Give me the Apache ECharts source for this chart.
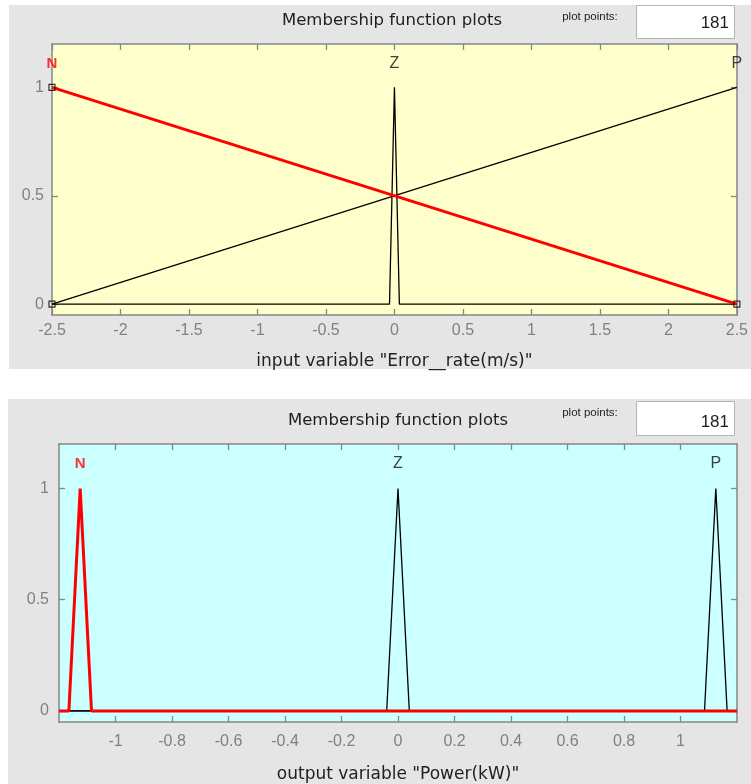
<!DOCTYPE html>
<html>
<head>
<meta charset="utf-8">
<script src="https://cdn.jsdelivr.net/npm/echarts@6/dist/echarts.min.js"></script>
<style>
html,body{margin:0;padding:0;background:#fff;}
#c{width:751px;height:784px;}
</style>
</head>
<body>
<div id="c"></div>
<script>
// ---- data ----
// input variable "Error__rate(m/s)"
const inRange = [-2.5, 2.5];
const inTicks = [-2.5, -2, -1.5, -1, -0.5, 0, 0.5, 1, 1.5, 2, 2.5];
const inMfNames = ['N', 'Z', 'P'];
const inN = [[-2.5, 1], [2.5, 0]];
const inZ = [[-2.5, 0], [-0.036, 0], [0, 1], [0.036, 0], [2.5, 0]];
const inP = [[-2.5, 0], [2.5, 1]];
const inLabelX = [-2.5, 0, 2.5];
const inVertices = [[-2.5, 1], [-2.5, 0], [2.5, 0]];

// output variable "Power(kW)"
const outRange = [-1.2, 1.2];
const outTicks = [-1, -0.8, -0.6, -0.4, -0.2, 0, 0.2, 0.4, 0.6, 0.8, 1];
const outMfNames = ['N', 'Z', 'P'];
const outN = [[-1.2, 0], [-1.165, 0], [-1.125, 1], [-1.085, 0], [1.2, 0]];
const outZ = [[-1.2, 0], [-0.04, 0], [0, 1], [0.04, 0], [1.2, 0]];
const outP = [[-1.2, 0], [1.085, 0], [1.125, 1], [1.165, 0], [1.2, 0]];
const outLabelX = [-1.125, 0, 1.125];

const yRange = [-0.05, 1.2];
const yTicks = [0, 0.5, 1];
const labelY = 1.11;
const plotPoints = '181';

// ---- chart ----
const FONT = '"Liberation Sans", Arial, sans-serif';
const WFONT = '"DejaVu Sans", "Liberation Sans", sans-serif';
const AX = '#868686';
const TXT = '#7f8088';
const chart = echarts.init(document.getElementById('c'), null, {renderer: 'canvas'});

function fmt(v) { return String(Math.round(v * 10) / 10); }

function xAxes(gi, range, ticks, name, margin, gap) {
  return [{
    type: 'value', gridIndex: gi, min: range[0], max: range[1], position: 'bottom',
    axisLine: {show: true, onZero: false, lineStyle: {color: AX, width: 1.5}},
    axisTick: {show: true, inside: true, length: 6, customValues: ticks, lineStyle: {color: AX, width: 1.3}},
    axisLabel: {show: true, customValues: ticks, formatter: fmt, color: TXT, fontFamily: FONT, fontSize: 16, margin: margin, showMinLabel: true, showMaxLabel: true},
    splitLine: {show: false},
    name: name, nameLocation: 'middle', nameGap: gap,
    nameTextStyle: {color: '#222', fontFamily: WFONT, fontSize: 17}
  }, {
    type: 'value', gridIndex: gi, min: range[0], max: range[1], position: 'top',
    axisLine: {show: true, onZero: false, lineStyle: {color: AX, width: 1.5}},
    axisTick: {show: true, inside: true, length: 6, customValues: ticks, lineStyle: {color: AX, width: 1.3}},
    axisLabel: {show: false}, splitLine: {show: false}
  }];
}
function yAxes(gi, margin) {
  return [{
    type: 'value', gridIndex: gi, min: yRange[0], max: yRange[1], position: 'left',
    axisLine: {show: true, onZero: false, lineStyle: {color: AX, width: 1.5}},
    axisTick: {show: true, inside: true, length: 6, customValues: yTicks, lineStyle: {color: AX, width: 1.3}},
    axisLabel: {show: true, customValues: yTicks, formatter: fmt, color: TXT, fontFamily: FONT, fontSize: 16, margin: margin},
    splitLine: {show: false}
  }, {
    type: 'value', gridIndex: gi, min: yRange[0], max: yRange[1], position: 'right',
    axisLine: {show: true, onZero: false, lineStyle: {color: AX, width: 1.5}},
    axisTick: {show: true, inside: true, length: 6, customValues: yTicks, lineStyle: {color: AX, width: 1.3}},
    axisLabel: {show: false}, splitLine: {show: false}
  }];
}

function mfLine(xi, yi, data, color, width, z) {
  return {type: 'line', xAxisIndex: xi, yAxisIndex: yi, data: data, symbol: 'none',
    lineStyle: {color: color, width: width}, z: z, silent: true, animation: false};
}
function mfLabels(xi, yi, names, xs) {
  return {type: 'scatter', xAxisIndex: xi, yAxisIndex: yi, symbolSize: 0,
    itemStyle: {color: 'transparent'}, silent: true, animation: false, z: 20,
    data: names.map((n, i) => ({value: [xs[i], labelY], name: n,
      label: {show: true, position: 'inside', formatter: n,
        color: i === 0 ? '#ff0000' : '#111', fontWeight: i === 0 ? 'bold' : 'normal',
        fontFamily: FONT, fontSize: i === 0 ? 15 : 16}}))
  };
}

const option = {
  animation: false,
  backgroundColor: '#ffffff',
  graphic: [
    {type: 'rect', shape: {x: 9, y: 5, width: 742, height: 364}, style: {fill: '#e5e5e5'}, z: -10},
    {type: 'rect', shape: {x: 8, y: 399, width: 743, height: 385}, style: {fill: '#e5e5e5'}, z: -10},
    {type: 'text', x: 392, y: 21, style: {text: 'Membership function plots', font: '16.5px ' + WFONT, fill: '#1e1e1e', align: 'center', verticalAlign: 'middle'}},
    {type: 'text', x: 590, y: 17, style: {text: 'plot points:', font: '11.5px ' + FONT, fill: '#222', align: 'center', verticalAlign: 'middle'}},
    {type: 'rect', shape: {x: 636.5, y: 5.5, width: 98, height: 33}, style: {fill: '#fff', stroke: '#b4b4b4', lineWidth: 1}},
    {type: 'text', x: 729, y: 23, style: {text: plotPoints, font: '17px ' + FONT, fill: '#1e1e1e', align: 'right', verticalAlign: 'middle'}},
    {type: 'text', x: 398, y: 421, style: {text: 'Membership function plots', font: '16.5px ' + WFONT, fill: '#1e1e1e', align: 'center', verticalAlign: 'middle'}},
    {type: 'text', x: 590, y: 413, style: {text: 'plot points:', font: '11.5px ' + FONT, fill: '#222', align: 'center', verticalAlign: 'middle'}},
    {type: 'rect', shape: {x: 636.5, y: 401.5, width: 98, height: 34}, style: {fill: '#fff', stroke: '#b4b4b4', lineWidth: 1}},
    {type: 'text', x: 729, y: 422, style: {text: plotPoints, font: '17px ' + FONT, fill: '#1e1e1e', align: 'right', verticalAlign: 'middle'}}
  ],
  grid: [
    {left: 52, top: 44, width: 685, height: 271, show: true, backgroundColor: '#ffffcc', borderWidth: 0},
    {left: 59, top: 444, width: 678, height: 281, show: true, backgroundColor: '#ccffff', borderWidth: 0}
  ],
  xAxis: [
    ...xAxes(0, inRange, inTicks, 'input variable "Error__rate(m/s)"', 8, 38),
    ...xAxes(1, outRange, outTicks, 'output variable "Power(kW)"', 12, 44)
  ],
  yAxis: [
    ...yAxes(0, 8),
    ...yAxes(1, 10)
  ],
  series: [
    mfLine(0, 0, inZ, '#000', 1.3, 5),
    mfLine(0, 0, inP, '#000', 1.3, 5),
    mfLine(0, 0, inN, '#ff0000', 3, 6),
    {type: 'scatter', xAxisIndex: 0, yAxisIndex: 0, data: inVertices, symbol: 'rect', symbolSize: 6,
      itemStyle: {color: 'rgba(0,0,0,0)', borderColor: '#000', borderWidth: 1.2}, z: 8, silent: true, animation: false},
    mfLabels(0, 0, inMfNames, inLabelX),
    mfLine(2, 2, outZ, '#000', 1.3, 5),
    mfLine(2, 2, outP, '#000', 1.3, 5),
    mfLine(2, 2, outN, '#ff0000', 3, 6),
    mfLabels(2, 2, outMfNames, outLabelX)
  ]
};
chart.setOption(option);
</script>
</body>
</html>
